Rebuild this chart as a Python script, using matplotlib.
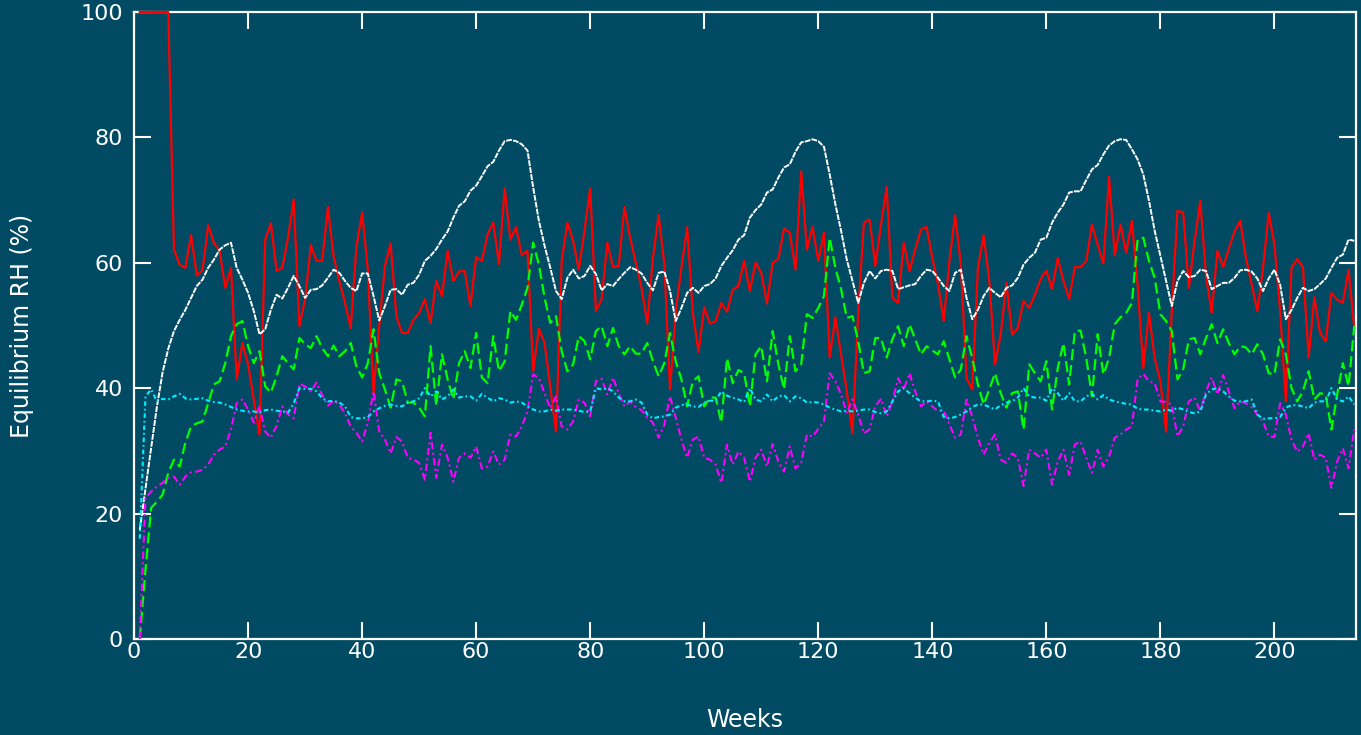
import numpy as np
import matplotlib
matplotlib.use("Agg")
import matplotlib.pyplot as plt

# weekly equilibrium RH readings (%), week 1 .. 214
red = [100, 100, 100, 100, 100, 100,
       62.1, 59.7, 59.2, 64.4, 58.0, 58.8, 66.0, 63.2, 61.9, 56.0, 59.2, 41.4, 47.2, 43.8,
       38.2, 32.6, 63.7, 66.3, 58.7, 59.2, 64.0, 70.1, 49.9, 54.2, 62.8, 60.3, 60.3, 68.9,
       61.0, 57.1, 53.6, 49.6, 62.6, 68.0, 58.9, 39.2, 49.9, 59.5, 63.1, 51.5, 48.8, 48.8,
       50.9, 52.0, 54.2, 50.4, 57.1, 54.7,
       61.9, 57.1, 58.6, 58.7, 53.1, 60.9, 60.3, 64.5, 66.4, 59.8, 71.9, 63.7, 65.7, 61.2,
       61.9, 42.7, 49.5, 47.2, 40.1, 33.1, 60.3, 66.4, 63.5, 58.9, 65.1, 71.9, 52.3,
       54.2, 63.2, 59.3, 59.5, 68.9, 64.0, 60.0, 56.0, 50.3, 60.8, 67.6, 59.8, 39.8, 52.3,
       59.2, 65.7, 52.0, 45.8, 52.9, 50.3, 50.7, 53.6, 52.2, 55.7, 56.3, 60.3, 55.5,
       60.0, 58.4, 53.5, 60.0, 60.6, 65.5, 64.8, 58.9, 74.6, 62.1, 65.7, 60.3, 64.8, 44.9,
       51.3, 45.4, 39.5, 32.8, 52.0, 66.4, 66.9, 59.5, 66.1, 72.1, 54.4, 53.6, 63.2,
       58.7, 62.1, 65.3, 65.7, 60.8, 56.6, 50.7, 60.3, 67.6, 59.8, 41.6, 39.8, 59.2, 64.4,
       57.1, 43.8, 48.6, 56.8, 48.5, 49.6, 53.9, 52.8, 54.9, 57.4, 58.8, 55.8, 60.8,
       57.1, 54.2, 59.3, 59.3, 60.3, 66.1, 62.9, 59.9, 73.7, 61.2, 66.1, 61.6, 66.7, 56.5,
       43.2, 52.0, 44.8, 41.1, 33.1, 52.3, 68.3, 68.0, 56.0, 63.5, 69.9, 57.9,
       52.0, 61.9, 59.3, 62.2, 65.0, 66.7, 60.8, 56.6, 52.3, 59.2, 68.0, 62.9, 52.3, 37.9,
       59.2, 60.6, 59.3, 44.9, 54.5, 48.8, 47.5, 55.2, 54.1, 53.6, 58.9, 49.6]

white = [17.4, 24.0, 30.5, 37.0, 42.5, 46.3, 49.1, 50.9, 52.5, 54.4, 56.3, 57.3, 59.2, 60.5,
         62.1, 62.8, 63.2, 59.2, 57.3, 55.2, 52.3, 48.6, 49.4, 52.5, 54.9, 54.3, 56.0,
         57.9, 56.3, 54.4, 55.7, 55.8, 56.4, 57.6, 58.9, 58.4, 57.1, 56.0, 55.5, 58.3, 58.3,
         54.7, 50.8, 53.1, 55.7, 55.8, 54.9, 56.5, 56.8, 58.1, 60.3, 61.1, 62.2, 63.7,
         65.0, 67.2, 69.1, 69.8, 71.5, 72.3, 73.8, 75.4, 76.1, 77.9, 79.4, 79.6, 79.4, 78.9,
         77.9, 72.0, 66.7, 62.7, 59.2, 55.5, 54.2, 57.6, 58.9, 57.5, 57.9, 59.5, 58.2,
         55.6, 56.6, 56.3, 57.4, 58.4, 59.3, 58.9, 58.3, 56.8, 55.6, 58.4, 58.6, 55.5, 50.7,
         52.8, 55.2, 56.0, 55.2, 56.3, 56.6, 57.5, 59.5, 60.8, 62.0, 63.7, 64.4, 67.2,
         68.4, 69.3, 71.2, 71.7, 73.6, 75.2, 75.7, 77.7, 79.2, 79.4, 79.7, 79.4, 78.5, 74.1,
         69.3, 65.1, 60.5, 57.1, 53.6, 56.8, 58.7, 57.5, 58.7, 58.9, 58.7, 55.8, 56.1,
         56.4, 56.6, 57.9, 58.9, 58.7, 57.6, 56.3, 55.5, 58.4, 58.9, 54.4, 51.0, 52.5, 54.7,
         56.0, 55.2, 54.5, 56.0, 56.4, 57.6, 59.7, 60.8, 61.6, 63.7, 64.0, 66.4, 68.0,
         69.3, 71.2, 71.4, 71.4, 73.2, 74.9, 75.6, 77.3, 78.7, 79.4, 79.7, 79.6, 78.1, 76.5,
         74.1, 69.9, 65.1, 61.1, 57.1, 53.1, 57.1, 58.7, 57.7, 57.9, 58.9, 58.7,
         55.8, 56.3, 56.8, 56.8, 57.6, 58.8, 58.9, 58.6, 57.5, 55.5, 57.5, 58.9, 56.5, 51.0,
         52.5, 54.4, 56.0, 55.5, 55.8, 56.6, 57.5, 59.2, 60.8, 61.3, 63.7, 63.5]

green = [0.0, 11.0, 20.9, 21.9, 23.0, 26.5, 28.6, 27.5, 31.3, 33.9, 34.4, 34.7, 37.6, 40.6,
         41.1, 44.0, 48.3, 50.2, 50.7, 46.7, 44.0, 45.9, 40.3, 39.3, 41.9, 45.1, 44.0,
         43.0, 48.0, 47.0, 46.4, 48.3, 46.4, 45.1, 46.8, 45.1, 45.9, 47.2, 43.5, 41.7, 44.0,
         49.4, 42.4, 39.8, 36.9, 41.4, 41.1, 37.7, 37.7, 36.9, 35.5, 46.7, 37.2, 45.4,
         41.4, 38.2, 44.0, 45.9, 43.2, 48.8, 41.7, 40.8, 48.3, 42.7, 44.3, 52.3, 50.9, 53.3,
         56.0, 63.2, 59.7, 54.4, 50.4, 51.5, 45.9, 42.7, 43.8, 48.3, 47.5, 44.6, 49.1,
         49.9, 46.7, 49.6, 46.7, 45.4, 46.7, 45.5, 45.5, 47.2, 44.3, 41.9, 44.0, 48.8, 44.3,
         41.4, 37.1, 41.1, 41.9, 37.1, 38.5, 38.5, 34.5, 44.8, 40.8, 42.9, 42.4, 37.1,
         45.4, 46.7, 41.1, 49.1, 43.8, 39.8, 48.3, 42.7, 43.8, 51.8, 51.2, 52.8, 54.7, 64.0,
         59.2, 55.8, 51.2, 51.5, 47.5, 42.4, 42.7, 48.0, 48.0, 44.9, 47.8, 49.9, 46.7,
         50.2, 47.8, 45.4, 46.7, 46.0, 45.4, 47.5, 44.6, 41.7, 43.0, 48.3, 44.8, 40.6, 37.4,
         39.8, 42.4, 39.2, 36.9, 39.2, 39.5, 33.4, 43.8, 42.4, 41.1, 44.3, 36.6, 43.2,
         47.2, 40.6, 49.1, 49.2, 44.8, 38.7, 48.6, 42.2, 44.8, 50.2, 51.3, 52.0, 53.6, 63.7,
         64.0, 60.3, 57.6, 51.8, 50.7, 49.1, 41.4, 43.0, 47.8, 48.0, 45.4, 48.0,
         50.2, 47.2, 49.4, 47.2, 45.4, 46.7, 46.5, 45.4, 47.0, 45.4, 42.4, 42.2, 47.8, 45.4,
         40.0, 37.9, 39.5, 42.7, 38.2, 39.2, 39.0, 33.4, 39.0, 44.0, 40.3, 49.9]

cyan = [16.0, 38.7, 39.8, 37.9, 38.3, 38.2, 38.7, 39.1, 38.4, 38.2, 38.3, 38.4, 38.0, 37.8,
        37.7, 37.4, 37.0, 36.6, 36.4, 36.3, 36.3, 36.1, 36.5, 36.6, 36.4, 36.3, 36.1,
        37.6, 40.0, 39.9, 39.9, 39.5, 38.4, 37.9, 38.0, 37.7, 37.1, 35.4, 35.2, 35.2, 35.4,
        36.3, 36.8, 37.2, 37.4, 37.2, 37.1, 37.7, 37.9, 38.4, 40.0, 38.7, 39.5, 38.2,
        38.7, 39.8, 38.5, 38.7, 38.7, 38.0, 39.1, 38.5, 37.9, 38.4, 38.2, 37.7, 37.9, 37.7,
        37.1, 36.6, 36.3, 36.3, 36.6, 36.4, 36.6, 36.6, 36.6, 36.4, 36.2, 36.3, 40.0,
        39.8, 40.0, 39.5, 38.5, 37.9, 37.9, 38.2, 37.7, 35.8, 35.2, 35.4, 35.5, 35.8, 36.9,
        37.3, 37.4, 37.1, 37.0, 37.7, 38.0, 38.0, 39.5, 38.8, 38.5, 38.2, 37.8, 40.0,
        38.2, 37.9, 39.0, 37.9, 38.7, 38.9, 37.9, 38.7, 38.4, 37.7, 37.8, 37.7, 37.4, 36.9,
        36.6, 36.3, 36.4, 36.3, 36.4, 36.6, 36.6, 36.2, 36.0, 36.3, 37.9, 39.5, 40.0,
        39.2, 38.5, 37.9, 37.9, 38.0, 37.9, 35.4, 35.2, 35.4, 35.8, 36.3, 37.0, 37.4, 37.4,
        37.0, 36.6, 37.3, 37.7, 37.9, 38.5, 40.0, 38.7, 38.5, 38.5, 38.0, 40.0, 39.2,
        38.0, 39.2, 37.9, 37.9, 38.7, 39.1, 38.2, 38.9, 38.2, 37.9, 37.7, 37.5, 37.4, 36.7,
        36.6, 36.6, 36.4, 36.3, 36.6, 36.4, 36.9, 36.6, 36.2, 36.0, 36.3, 39.0,
        39.8, 40.0, 39.5, 38.7, 38.0, 37.9, 37.9, 38.2, 35.8, 35.1, 35.2, 35.2, 35.4, 36.9,
        37.3, 37.3, 37.1, 36.8, 37.7, 37.9, 37.9, 40.0, 38.2, 37.9, 38.7, 37.4]

magenta = [0.0, 22.5, 23.5, 24.3, 24.9, 25.7, 25.9, 24.6, 25.9, 26.6, 26.7, 27.0, 27.8, 29.4,
           30.2, 30.7, 33.4, 37.6, 38.2, 36.6, 34.5, 37.1, 33.1, 32.1, 34.0, 37.1, 35.8,
           35.2, 40.7, 40.3, 39.5, 40.9, 38.9, 37.2, 38.0, 37.4, 36.0, 33.9, 32.9, 31.5, 34.5,
           39.5, 33.1, 31.8, 29.6, 32.2, 31.5, 28.9, 28.6, 28.1, 25.4, 32.9, 25.7, 31.0,
           28.9, 25.1, 28.9, 29.6, 28.9, 30.7, 27.2, 27.5, 29.9, 27.8, 28.6, 32.6, 32.3, 33.9,
           36.3, 42.2, 41.6, 39.2, 36.8, 38.7, 33.9, 33.4, 34.7, 38.2, 37.7, 35.5, 41.1,
           41.5, 39.0, 41.7, 39.2, 37.1, 37.9, 37.0, 36.5, 35.3, 34.5, 32.1, 34.2, 38.7, 35.3,
           31.8, 28.9, 31.8, 32.3, 28.9, 28.6, 27.8, 24.9, 31.0, 27.8, 29.9, 28.9, 25.1,
           28.9, 30.2, 27.5, 31.1, 28.3, 26.7, 30.7, 27.2, 28.1, 32.6, 32.3, 33.5, 34.7, 42.4,
           41.1, 39.0, 36.0, 38.2, 35.8, 32.8, 33.4, 37.1, 38.3, 35.5, 37.9, 41.6, 39.8,
           42.4, 39.5, 37.1, 37.9, 37.1, 36.3, 36.4, 34.2, 32.1, 32.6, 38.2, 35.5, 32.1, 29.4,
           31.3, 32.6, 28.6, 28.1, 29.6, 28.9, 24.4, 30.2, 29.6, 28.9, 30.2, 24.6, 28.3,
           30.2, 26.2, 31.0, 31.5, 28.9, 26.5, 30.2, 27.5, 29.1, 32.1, 32.6, 33.4, 33.9, 41.4,
           42.3, 41.1, 40.8, 37.9, 37.8, 37.4, 32.3, 33.9, 37.9, 38.5, 36.3, 39.5,
           41.7, 39.0, 42.1, 39.5, 36.8, 37.9, 37.6, 37.0, 35.8, 34.7, 32.3, 32.2, 37.6, 35.8,
           31.8, 29.9, 30.7, 32.8, 28.6, 29.4, 28.9, 24.1, 28.3, 30.4, 27.2, 33.4]

bg = "#004b63"
plt.rcParams['font.family'] = ['DejaVu Sans']

fig = plt.figure(figsize=(13.61, 7.35), dpi=100, facecolor=bg)
ax = fig.add_axes([0.0985, 0.1306, 0.8978, 0.8531], facecolor=bg)

def weeks(s):
    return np.arange(1, len(s) + 1)

ax.plot(weeks(red), red, color="#ff0000", lw=1.6, clip_on=False, zorder=3)
ax.plot(weeks(white), white, color="white", lw=1.4, ls=(0, (3.0, 0.6)), zorder=3)
ax.plot(weeks(green), green, color="#00ff00", lw=1.6, ls=(0, (5.0, 2.2)), zorder=3)
ax.plot(weeks(magenta), magenta, color="#ff00ff", lw=1.5, ls=(0, (3.5, 1.6, 1.0, 1.6)), zorder=3)
ax.plot(weeks(cyan), cyan, color="#00eeff", lw=1.5, ls=(0, (2.2, 1.4, 0.8, 1.4)), zorder=3)

ax.set_xlim(0, 214.3)
ax.set_ylim(0, 100)
ax.set_xticks(np.arange(0, 201, 20))
ax.set_yticks(np.arange(0, 101, 20))

for sp in ax.spines.values():
    sp.set_color("white")
    sp.set_linewidth(1.6)

ax.tick_params(which="both", direction="in", top=True, right=True,
               length=12, width=1.5, color="white", labelcolor="white",
               labelsize=16)
ax.tick_params(axis="x", pad=2)
ax.tick_params(axis="y", pad=8)

ax.set_xlabel("Weeks", color="white", fontsize=17, va="center")
ax.set_ylabel("Equilibrium RH (%)", color="white", fontsize=17, va="center")
ax.xaxis.set_label_coords(0.5, -0.129)
ax.yaxis.set_label_coords(-0.092, 0.5)

fig.savefig("out.png", dpi=100, facecolor=bg)
